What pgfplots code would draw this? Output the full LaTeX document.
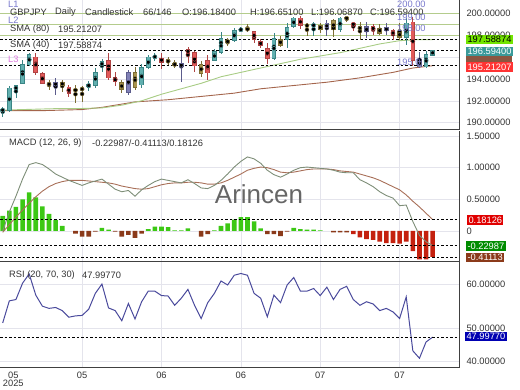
\documentclass[border=0pt]{standalone}
\usepackage{fontspec}
\setmainfont{Liberation Sans}
\usepackage{pgfplots}
\usepackage{pgfplotstable}
\pgfplotsset{compat=1.18}
\definecolor{cUp}{HTML}{62B0B0}
\definecolor{cUpD}{HTML}{3A8585}
\definecolor{cDn}{HTML}{E25A5A}
\definecolor{cDnD}{HTML}{B04444}
\definecolor{cOl}{HTML}{A8944E}
\definecolor{cOlD}{HTML}{7E6E34}
\definecolor{cPu}{HTML}{8080B6}
\definecolor{cPuD}{HTML}{5C5C8C}
\definecolor{sma40}{HTML}{A8CC84}
\definecolor{sma80}{HTML}{A4654C}
\definecolor{lvl}{HTML}{B4CC8C}
\definecolor{macdc}{HTML}{7E8E78}
\definecolor{sigc}{HTML}{A86F58}
\definecolor{hpos}{HTML}{3CC814}
\definecolor{hneg}{HTML}{8B3A1A}
\definecolor{hneg2}{HTML}{C4200E}
\definecolor{rsic}{HTML}{4A4A9C}
\definecolor{lav}{HTML}{7878CC}
\definecolor{pinkl}{HTML}{DD77DD}
\definecolor{txt}{HTML}{333333}
\definecolor{gridc}{HTML}{E4E4EC}
\definecolor{boxteal}{HTML}{3A9A9A}

\pgfplotstableread{
x O H L C
0 191.10 191.45 190.55 191.20
1 191.15 193.35 191.00 193.15
2 193.00 193.45 192.30 193.35
3 193.60 195.75 193.50 195.30
4 195.30 196.40 195.20 196.20
13 193.35 193.80 192.90 193.45
14 193.40 195.00 193.20 194.60
15 195.15 195.80 194.60 195.60
21 193.45 195.35 193.20 195.00
22 195.05 196.15 194.95 196.00
23 196.00 196.40 195.60 196.05
32 195.70 196.70 195.60 196.50
33 196.40 198.30 196.30 197.65
35 197.55 198.70 197.40 198.40
36 198.45 198.75 198.25 198.55
41 195.90 198.20 195.70 197.70
43 197.60 199.10 196.80 198.70
44 198.80 199.70 198.70 199.55
47 198.85 199.20 197.90 198.95
51 198.55 199.70 198.30 199.55
61 197.80 199.60 197.10 199.10
64 195.10 196.55 195.00 196.20
65 196.184 196.651 196.0687 196.594
}\tUp
\pgfplotstableread{
x O H L C
5 196.00 196.40 194.40 194.60
6 194.45 194.60 193.50 193.60
10 193.25 193.45 192.35 192.70
16 195.70 196.40 193.90 194.10
17 194.10 194.60 193.40 193.75
24 195.90 196.40 194.95 195.55
28 196.70 196.90 195.50 196.35
29 196.40 196.60 194.60 195.20
31 195.70 196.20 193.90 194.55
38 198.30 198.35 197.30 197.65
39 197.40 197.65 196.80 197.10
40 196.80 197.30 195.40 195.90
45 199.55 199.80 198.60 198.90
53 199.10 199.20 198.40 198.90
56 198.75 199.00 198.00 198.50
59 198.40 198.60 197.60 198.00
62 199.20 199.70 195.20 195.70
}\tDn
\pgfplotstableread{
x O H L C
7 193.60 193.90 193.00 193.45
9 193.70 193.90 192.80 193.40
11 193.00 193.40 191.80 192.95
12 193.05 193.40 191.85 193.10
18 193.65 193.90 192.75 193.05
20 193.20 195.10 192.95 194.60
25 195.60 196.00 195.30 195.65
26 195.45 195.75 195.00 195.20
30 195.30 195.60 194.20 194.50
34 197.55 197.70 197.00 197.30
37 198.50 199.00 198.25 198.60
42 197.10 197.90 196.90 197.60
46 198.85 199.10 197.90 198.90
48 198.84 199.10 198.20 198.56
50 199.30 199.50 197.80 198.55
52 199.50 199.80 199.20 199.60
54 198.80 199.20 197.55 198.50
57 198.65 199.00 198.00 198.20
60 198.30 199.10 197.60 197.80
}\tOl
\pgfplotstableread{
x O H L C
8 193.35 194.10 192.50 193.70
19 192.80 194.80 192.55 194.60
27 195.10 196.60 193.70 195.40
49 198.60 199.40 197.90 199.10
55 198.30 199.20 197.70 198.75
58 198.40 199.10 198.00 198.70
63 195.75 196.50 195.00 195.10
}\tPu

\newcommand{\candles}[3]{%
 \addplot[draw=#3, only marks, mark=none, error bars/.cd, y dir=both, y explicit, error mark=none,
   error bar style={line width=0.8pt, draw=#3}]
   table[x=x, y expr={(\thisrow{H}+\thisrow{L})/2}, y error expr={(\thisrow{H}-\thisrow{L})/2}]{#1};
 \addplot[draw=#3, only marks, mark=none, error bars/.cd, y dir=both, y explicit, error mark=none,
   error bar style={line width=4.6pt, draw=#3}]
   table[x=x, y expr={(\thisrow{O}+\thisrow{C})/2}, y error expr={max(abs(\thisrow{C}-\thisrow{O})/2+0.05,0.08)}]{#1};
 \addplot[draw=#2, only marks, mark=none, error bars/.cd, y dir=both, y explicit, error mark=none,
   error bar style={line width=3.0pt, draw=#2}]
   table[x=x, y expr={(\thisrow{O}+\thisrow{C})/2}, y error expr={max(abs(\thisrow{C}-\thisrow{O})/2-0.02,0.02)}]{#1};
}

\pgfplotsset{
 panel/.style={scale only axis, width=459pt, xmin=-0.41, xmax=68.98,
  axis x line*=bottom, axis y line*=right,
  axis line style={draw=black!75, line width=1pt},
  major tick length=0pt, xtick={12,24,36,48,60},
  grid=major, grid style={gridc, line width=0.6pt},
  yticklabel style={font=\fontsize{9.3}{10}\selectfont, text=black!80, xshift=4pt},
  xticklabel style={font=\fontsize{9.3}{10}\selectfont, text=black!80},
  anchor=north west},
 hl/.style={black, line width=0.8pt, dash pattern=on 2.5pt off 2pt, forget plot},
}
\newcommand{\tx}[4][txt]{\node[anchor=west, inner sep=0pt, font=\fontsize{9.3}{11}\selectfont, text=#1] at (#2pt,-#3pt) {#4};}
\newcommand{\bx}[5]{\node[anchor=west, fill=#3, text=#4, inner xsep=1.3pt, inner ysep=1.4pt, font=\fontsize{9.3}{10}\selectfont] at (#1pt,-#2pt) {#5};}

\begin{document}
\begin{tikzpicture}
\useasboundingbox (0,0) rectangle (520pt,-390pt);
% ---------------- price panel
\begin{axis}[panel, at={(0pt,0pt)}, height=130pt, ymin=189.33, ymax=201.22,
  ytick={190,192,194,196,198,200},
  yticklabels={190.00000,192.00000,194.00000,196.00000,198.00000,200.00000},
  xticklabels={}]
\addplot[lvl, line width=0.8pt, forget plot] coordinates {(-0.41,200) (68.98,200)};
\addplot[lvl, line width=0.8pt, forget plot] coordinates {(-0.41,199) (68.98,199)};
\addplot[lvl, line width=0.8pt, forget plot] coordinates {(-0.41,198) (68.98,198)};
\addplot[sma80, line width=0.9pt] coordinates {
(0,191.10) (6,191.10) (12,191.20) (15,191.40) (20,191.90) (25,192.10) (30,192.40)
(35,192.70) (39,193.10) (44,193.40) (49,193.70) (54,194.10) (59,194.60) (62,195.00) (65,195.21)};
\addplot[sma40, line width=0.9pt] coordinates {
(0,191.15) (3,191.20) (6,191.25) (9,191.30) (12,191.30) (15,191.35) (18,191.60) (21,192.00)
(24,192.60) (27,193.10) (30,193.60) (33,194.20) (36,194.60) (39,195.00) (42,195.40) (45,195.80)
(48,196.10) (51,196.40) (54,196.80) (57,197.20) (60,197.50) (63,197.60) (65,197.59)};
\addplot[hl] coordinates {(-0.41,197.58874) (68.98,197.58874)};
\addplot[hl] coordinates {(-0.41,196.594) (68.98,196.594)};
\addplot[hl] coordinates {(-0.41,195.21207) (68.98,195.21207)};
\candles{\tUp}{cUp}{cUpD}
\candles{\tDn}{cDn}{cDnD}
\candles{\tOl}{cOl}{cOlD}
\candles{\tPu}{cPu}{cPuD}
\end{axis}
% ---------------- MACD panel
\begin{axis}[panel, at={(0pt,-131pt)}, height=131pt, ymin=-0.49, ymax=1.58,
  ytick={0,0.5,1,1.5}, yticklabels={0,0.50000,1.00000,1.50000}, xticklabels={}]
\addplot[ybar, bar width=4.6pt, bar shift=0pt, fill=hpos, draw=none] coordinates {
(0,0.24) (1,0.32) (2,0.38) (3,0.50) (4,0.61) (5,0.53) (6,0.39) (7,0.27) (8,0.17) (9,0.08)
(15,0.05) (16,0.02) (22,0.03) (23,0.07) (24,0.07) (25,0.06) (26,0.01) (27,0.01) (28,0.04)
(32,0.01) (33,0.08) (34,0.12) (35,0.18) (36,0.22) (37,0.22) (38,0.15) (39,0.04)
(44,0.05) (45,0.03) (46,0.02) (47,0.02) (48,0.01)};
\addplot[ybar, bar width=4.6pt, bar shift=0pt, fill=hneg, draw=none] coordinates {
(11,-0.04) (12,-0.09) (13,-0.09) (14,-0.01) (17,-0.01) (18,-0.09) (19,-0.06) (20,-0.11) (21,-0.04)
(30,-0.09) (31,-0.05) (40,-0.05) (41,-0.05) (42,-0.08) (43,-0.01) (50,-0.02) (51,-0.02) (52,-0.02)};
\addplot[ybar, bar width=4.6pt, bar shift=0pt, fill=hneg2, draw=none] coordinates {
(53,-0.05) (54,-0.10) (55,-0.13) (56,-0.14) (57,-0.17) (58,-0.19) (59,-0.19) (60,-0.20) (61,-0.17)
(62,-0.32) (63,-0.45) (64,-0.45) (65,-0.41)};
\addplot[sigc, line width=0.9pt] coordinates {
(0,-0.02) (1,0.10) (2,0.22) (3,0.33) (4,0.44) (5,0.54) (6,0.63) (7,0.70) (8,0.75) (9,0.78)
(10,0.80) (11,0.80) (12,0.80) (13,0.79) (14,0.78) (15,0.77) (16,0.76) (17,0.74) (18,0.71) (19,0.69)
(20,0.67) (21,0.66) (22,0.67) (23,0.70) (24,0.73) (25,0.75) (26,0.76) (27,0.76) (28,0.77) (29,0.77)
(30,0.76) (31,0.74) (32,0.74) (33,0.76) (34,0.80) (35,0.85) (36,0.90) (37,0.96) (38,0.99) (39,1.01)
(40,1.00) (41,0.97) (42,0.93) (43,0.92) (44,0.93) (45,0.95) (46,0.97) (47,0.98) (48,0.98) (49,0.98)
(50,0.97) (51,0.95) (52,0.94) (53,0.93) (54,0.90) (55,0.87) (56,0.84) (57,0.80) (58,0.75) (59,0.70)
(60,0.65) (61,0.57) (62,0.47) (63,0.38) (64,0.28) (65,0.18)};
\addplot[macdc, line width=0.9pt] coordinates {
(0,0.00) (1,0.30) (2,0.55) (3,0.82) (4,1.05) (5,1.08) (6,1.05) (7,0.98) (8,0.90) (9,0.85)
(10,0.80) (11,0.76) (12,0.72) (13,0.76) (14,0.79) (15,0.82) (16,0.74) (17,0.66) (18,0.62) (19,0.64)
(20,0.55) (21,0.65) (22,0.72) (23,0.78) (24,0.82) (25,0.80) (26,0.78) (27,0.76) (28,0.81) (29,0.75)
(30,0.68) (31,0.67) (32,0.72) (33,0.80) (34,0.90) (35,1.01) (36,1.10) (37,1.17) (38,1.14) (39,1.07)
(40,0.96) (41,0.89) (42,0.85) (43,0.90) (44,0.96) (45,1.00) (46,1.01) (47,1.00) (48,0.99) (49,0.98)
(50,0.96) (51,0.93) (52,0.92) (53,0.92) (54,0.81) (55,0.76) (56,0.70) (57,0.62) (58,0.56) (59,0.52)
(60,0.40) (61,0.41) (62,0.15) (63,-0.07) (64,-0.17) (65,-0.23)};
\addplot[hl] coordinates {(-0.41,0.18126) (68.98,0.18126)};
\addplot[hl] coordinates {(-0.41,-0.22987) (68.98,-0.22987)};
\addplot[hl] coordinates {(-0.41,-0.41113) (68.98,-0.41113)};
\end{axis}
% ---------------- RSI panel
\begin{axis}[panel, at={(0pt,-262pt)}, height=106pt, ymin=41.0, ymax=65.0,
  ytick={50,60}, yticklabels={50.00000,60.00000},
  extra y ticks={42.6}, extra y tick labels={40.00000},
  xticklabels={05,06,06,07,07},
  extra x ticks={1.6}, extra x tick labels={{05\\2025}},
  extra x tick style={grid=none, xticklabel style={align=center, font=\fontsize{9.3}{8.6}\selectfont}}]
\addplot[rsic, line width=1pt] coordinates {
(0,51.2) (1,56.2) (2,56.5) (3,60.2) (4,62.3) (5,57.5) (6,55.0) (7,54.5) (8,54.7) (9,54.0)
(10,52.5) (11,52.8) (12,52.9) (13,54.3) (14,57.9) (15,60.0) (16,54.6) (17,54.0) (18,51.7) (19,55.6)
(20,52.1) (21,56.0) (22,58.4) (23,58.4) (24,57.4) (25,57.3) (26,55.2) (27,56.8) (28,58.8) (29,55.2)
(30,52.2) (31,55.8) (32,57.9) (33,60.7) (34,59.8) (35,62.0) (36,62.4) (37,62.0) (38,57.9) (39,56.8)
(40,52.6) (41,57.5) (42,55.8) (43,59.8) (44,61.5) (45,58.4) (46,58.4) (47,59.0) (48,57.4) (49,59.3)
(50,56.5) (51,58.8) (52,59.5) (53,56.5) (54,55.2) (55,56.0) (56,55.5) (57,54.0) (58,54.5) (59,53.7)
(60,52.2) (61,57.1) (62,44.9) (63,43.2) (64,46.9) (65,48.0)};
\addplot[hl] coordinates {(-0.41,47.9977) (68.98,47.9977)};
\end{axis}
% ---------------- texts
\tx{10}{12}{GBPJPY}
\tx{55}{12}{Daily}
\tx{85}{12}{Candlestick}
\tx{143}{12}{66/146}
\tx{182}{12}{O:196.18400}
\tx{250}{12}{H:196.65100}
\tx{311}{12}{L:196.06870}
\tx{370}{12}{C:196.59400}
\tx{10}{29}{SMA (80)}
\tx{58}{29}{195.21207}
\tx{10}{45}{SMA (40)}
\tx{58}{45}{197.58874}
\tx[lav]{8}{4}{L1}
\tx[lav]{8}{20}{L2}
\tx[pinkl]{8}{59}{L3}
\tx[lav]{397}{4}{200.00}
\tx[lav]{397}{17}{199.00}
\tx[lav]{397}{28}{198.00}
\tx[lav]{397}{62}{195.0}
\tx{9}{143}{MACD (12, 26, 9)}
\tx{92}{143}{-0.22987/-0.41113/0.18126}
\tx{9}{275}{RSI (20, 70, 30)}
\tx{82}{275}{47.99770}
\node[font=\fontsize{26}{28}\selectfont, text=black!60] at (259pt,-194pt) {Arincen};
% value boxes
\fill[fill=sma80!85!black] (466pt,-56pt) rectangle (512pt,-64pt);
\bx{466}{39.5}{green!75!black!40!lime}{black}{197.58874}
\bx{466}{51.5}{boxteal}{white}{196.59400}
\bx{466}{67}{red!80!white}{white}{195.21207}
\bx{467}{220}{red!88!black}{white}{0.18126}
\bx{466}{246}{green!55!black}{white}{-0.22987}
\bx{466}{257.5}{hneg}{white}{-0.41113}
\bx{465}{336.5}{blue!70!black}{white}{47.99770}
\end{tikzpicture}
\end{document}
